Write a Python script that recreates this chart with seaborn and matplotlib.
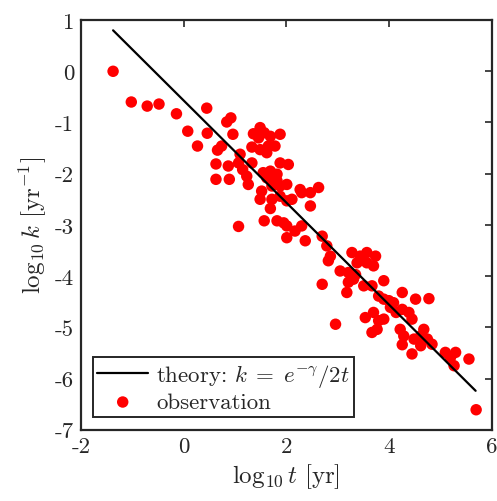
import matplotlib
matplotlib.use('Agg')
import matplotlib.pyplot as plt
import seaborn as sns
import pandas as pd
import numpy as np

# theory line end points (log10 t, log10 k)
theory_t = [-1.375, 5.69]
theory_k = [0.80, -6.24]

obs_t = [-1.375, -1.02, -0.71, -0.48, -0.14, 0.45, 0.08, 0.27, 0.46, 0.84, 0.92, 0.96,
         0.66, 0.74, 0.63, 0.63, 0.89, 0.87, 1.07,
         1.10, 1.07, 1.15, 1.23, 1.26, 1.33,
         1.36, 1.33, 1.49, 1.57, 1.46, 1.69, 1.88, 1.49, 1.65, 1.78, 1.62, 1.88, 2.04,
         1.55, 1.69, 1.82, 1.62, 1.75, 1.82, 1.88, 1.72, 1.52, 1.49, 1.72, 1.88, 2.01, 2.01,
         1.69, 1.57, 1.82, 1.95, 2.01, 2.30, 2.17, 2.01, 2.37, 2.11, 2.30, 2.27, 2.47, 2.63, 2.47,
         2.70, 2.79, 2.86, 2.82, 2.70, 2.96,
         3.28, 3.44, 3.57, 3.74, 3.38, 3.57, 3.70, 3.05, 3.21, 3.31, 3.21, 3.35, 3.51, 3.67,
         3.90, 3.18, 3.80, 3.90, 4.00, 4.09, 4.26, 4.52, 4.78,
         4.26, 4.39, 4.45, 4.14, 4.03, 3.54, 3.70, 3.80, 3.90, 3.77, 3.67,
         4.22, 4.29, 4.49, 4.68, 4.62, 4.75, 4.26, 4.45, 4.62, 4.84,
         5.10, 5.30, 5.20, 5.27, 5.56, 5.70]
obs_k = [0.0, -0.60, -0.68, -0.64, -0.83, -0.72, -1.17, -1.46, -1.21, -0.99, -0.91, -1.23,
         -1.54, -1.46, -1.81, -2.11, -2.11, -1.85, -3.03,
         -1.62, -1.79, -1.92, -2.05, -2.21, -1.79,
         -1.22, -1.48, -1.10, -1.20, -1.30, -1.27, -1.23, -1.53, -1.46, -1.46, -1.59, -1.79, -1.82,
         -1.98, -1.95, -2.01, -2.08, -2.11, -2.14, -2.24, -2.24, -2.34, -2.50, -2.50, -2.44, -2.53, -2.21,
         -2.68, -2.92, -2.92, -2.96, -3.02, -3.02, -3.12, -3.25, -3.31, -2.50, -2.37, -2.31, -2.37, -2.27, -2.63,
         -3.22, -3.41, -3.61, -3.70, -4.16, -4.94,
         -3.54, -3.61, -3.54, -3.61, -3.74, -3.74, -3.80, -3.90, -3.93, -4.06, -4.12, -3.97, -4.19, -4.19,
         -4.09, -4.32, -4.39, -4.45, -4.48, -4.52, -4.32, -4.45, -4.44,
         -4.65, -4.71, -4.84, -4.71, -4.61, -4.81, -4.71, -4.87, -4.84, -5.04, -5.10,
         -5.04, -5.17, -5.23, -5.04, -5.17, -5.23, -5.34, -5.52, -5.36, -5.33,
         -5.49, -5.49, -5.59, -5.75, -5.62, -6.61]

x_ticks = [-2, 0, 2, 4, 6]
y_ticks = [-7, -6, -5, -4, -3, -2, -1, 0, 1]

sns.set_style('white')
plt.rcParams['font.family'] = 'serif'
plt.rcParams['font.serif'] = ['cmr10', 'DejaVu Serif']
plt.rcParams['mathtext.fontset'] = 'cm'
plt.rcParams['axes.unicode_minus'] = False
plt.rcParams['axes.formatter.use_mathtext'] = False

obs = pd.DataFrame({'t': obs_t, 'k': obs_k})
theory = pd.DataFrame({'t': theory_t, 'k': theory_k})

fig = plt.figure(figsize=(4.97, 5.02), dpi=100)
ax = fig.add_axes([0.163, 0.142, 0.826, 0.816])

sns.lineplot(data=theory, x='t', y='k', color='black', linewidth=1.6, ax=ax,
             label=r'theory: $k\;=\;e^{-\gamma}/2t$')
sns.scatterplot(data=obs, x='t', y='k', color='#ff0000', s=68, edgecolor='none', ax=ax,
                label='observation', zorder=1)

ax.set_xlim(-2, 6)
ax.set_ylim(-7, 1)
ax.set_xticks(x_ticks)
ax.set_yticks(y_ticks)
ax.set_xticklabels([str(v) for v in x_ticks])
ax.set_yticklabels([str(v) for v in y_ticks])
ax.tick_params(direction='in', top=True, right=True, length=5, width=1.2,
               labelsize=16.5, colors='#262626', pad=5)
for sp in ax.spines.values():
    sp.set_linewidth(1.6)
    sp.set_color('#262626')

ax.set_xlabel(r'$\log_{10} t\ [\mathrm{yr}]$', fontsize=18, color='#262626', labelpad=4)
ax.set_ylabel(r'$\log_{10} k\ [\mathrm{yr}^{-1}]$', fontsize=18, color='#262626', labelpad=4)

leg = ax.legend(loc='lower left', bbox_to_anchor=(0.029, 0.032), borderaxespad=0,
                fancybox=False, edgecolor='#262626', framealpha=1, fontsize=16.5,
                handlelength=2.2, handletextpad=0.35, borderpad=0.2, labelspacing=0.15,
                markerscale=1.0)
leg.get_frame().set_linewidth(1.4)

plt.savefig('out.png', dpi=100)
plt.close()
